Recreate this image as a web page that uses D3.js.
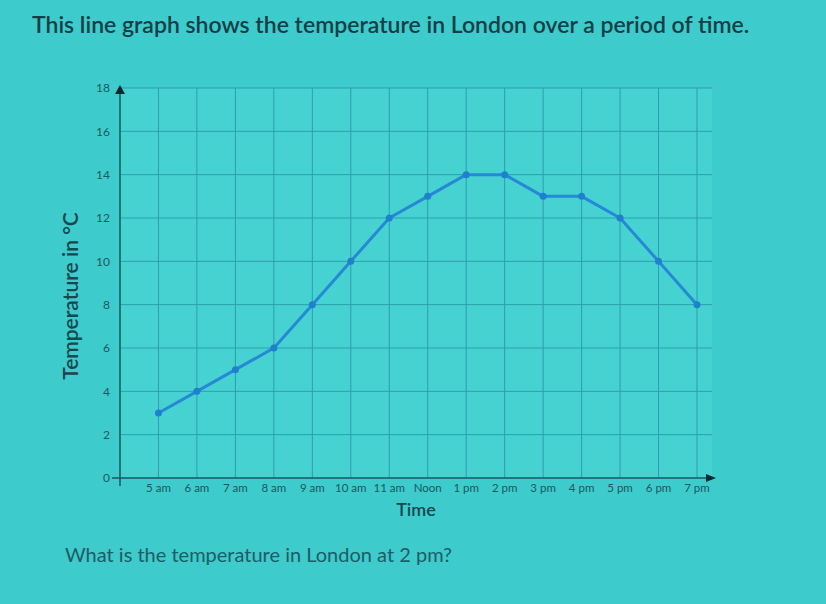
<!DOCTYPE html>
<html>
<head>
<meta charset="utf-8">
<script src="https://cdn.jsdelivr.net/npm/d3@7"></script>
<style>
  body { margin: 0; background: #3dcbcb; }
  svg { display: block; }
</style>
</head>
<body>
<div id="chart"></div>
<script>
const hours = ["5 am", "6 am", "7 am", "8 am", "9 am", "10 am", "11 am", "Noon",
  "1 pm", "2 pm", "3 pm", "4 pm", "5 pm", "6 pm", "7 pm"];
const temps = [3, 4, 5, 6, 8, 10, 12, 13, 14, 14, 13, 13, 12, 10, 8];
const yTicks = [0, 2, 4, 6, 8, 10, 12, 14, 16, 18];

const width = 826, height = 604;
const plotLeft = 120, plotRight = 712, plotTop = 88, plotBottom = 478;

const svg = d3.select("#chart").append("svg")
  .attr("width", width)
  .attr("height", height);

svg.append("rect")
  .attr("width", width).attr("height", height)
  .attr("fill", "#3dcbcb");

// title
svg.append("text")
  .attr("x", 32).attr("y", 33)
  .style("font-family", "Lato, sans-serif")
  .style("font-size", "23px")
  .style("font-weight", 600)
  .style("fill", "#123f47")
  .text("This line graph shows the temperature in London over a period of time.");

const x = d3.scaleLinear().domain([-1, hours.length - 1]).range([plotLeft, 697]);
const y = d3.scaleLinear().domain([0, 18]).range([plotBottom, plotTop]);

// plot area
svg.append("rect")
  .attr("x", plotLeft).attr("y", plotTop)
  .attr("width", plotRight - plotLeft).attr("height", plotBottom - plotTop)
  .attr("fill", "#47d2d2");

// grid
const grid = svg.append("g").attr("stroke", "#2b9fae").attr("stroke-width", 1);
grid.selectAll("line.h")
  .data(yTicks.slice(1))
  .enter().append("line")
  .attr("x1", plotLeft).attr("x2", plotRight)
  .attr("y1", d => y(d)).attr("y2", d => y(d));
grid.selectAll("line.v")
  .data(d3.range(0, hours.length))
  .enter().append("line")
  .attr("x1", d => x(d)).attr("x2", d => x(d))
  .attr("y1", plotTop).attr("y2", plotBottom);

// axes
const axisColor = "#135a62";
svg.append("line")
  .attr("x1", plotLeft).attr("x2", plotLeft)
  .attr("y1", plotBottom + 8).attr("y2", plotTop + 2)
  .attr("stroke", axisColor).attr("stroke-width", 1.5);
svg.append("path")
  .attr("d", `M${plotLeft - 5},${plotTop + 6}L${plotLeft},${plotTop - 3}L${plotLeft + 5},${plotTop + 6}Z`)
  .attr("fill", "#0d2a30");
svg.append("line")
  .attr("x1", plotLeft - 8).attr("x2", plotRight + 2)
  .attr("y1", plotBottom).attr("y2", plotBottom)
  .attr("stroke", axisColor).attr("stroke-width", 1.5);
svg.append("path")
  .attr("d", `M${plotRight - 6},${plotBottom - 4}L${plotRight + 4},${plotBottom}L${plotRight - 6},${plotBottom + 4}Z`)
  .attr("fill", "#0d2a30");

// y tick labels
svg.append("g").selectAll("text")
  .data(yTicks)
  .enter().append("text")
  .attr("x", plotLeft - 10)
  .attr("y", d => y(d))
  .attr("dy", "0.35em")
  .attr("text-anchor", "end")
  .style("font-family", "Lato, sans-serif")
  .style("font-size", "12px")
  .style("fill", "#1b5961")
  .text(d => d);

// x tick labels
svg.append("g").selectAll("text")
  .data(hours)
  .enter().append("text")
  .attr("x", (d, i) => x(i))
  .attr("y", plotBottom + 14)
  .attr("text-anchor", "middle")
  .style("font-family", "Lato, sans-serif")
  .style("font-size", "11.5px")
  .style("fill", "#1b5961")
  .text(d => d);

// axis titles
svg.append("text")
  .attr("x", 416).attr("y", 516)
  .attr("text-anchor", "middle")
  .style("font-family", "Lato, sans-serif")
  .style("font-size", "18px")
  .style("font-weight", 600)
  .style("fill", "#17474f")
  .text("Time");
svg.append("text")
  .attr("transform", "translate(78,296) rotate(-90)")
  .attr("text-anchor", "middle")
  .style("font-family", "Lato, sans-serif")
  .style("font-size", "21px")
  .style("font-weight", 600)
  .style("fill", "#17474f")
  .text("Temperature in °C");

// line
const line = d3.line()
  .x((d, i) => x(i))
  .y(d => y(d));
svg.append("path")
  .datum(temps)
  .attr("d", line)
  .attr("fill", "none")
  .attr("stroke", "#2589d6")
  .attr("stroke-width", 3)
  .attr("stroke-linejoin", "round");
svg.append("g").selectAll("circle")
  .data(temps)
  .enter().append("circle")
  .attr("cx", (d, i) => x(i))
  .attr("cy", d => y(d))
  .attr("r", 3.5)
  .attr("fill", "#1f80cf");

// question
svg.append("text")
  .attr("x", 65).attr("y", 562)
  .style("font-family", "Lato, sans-serif")
  .style("font-size", "20px")
  .style("fill", "#1e5c66")
  .text("What is the temperature in London at 2 pm?");
</script>
</body>
</html>
